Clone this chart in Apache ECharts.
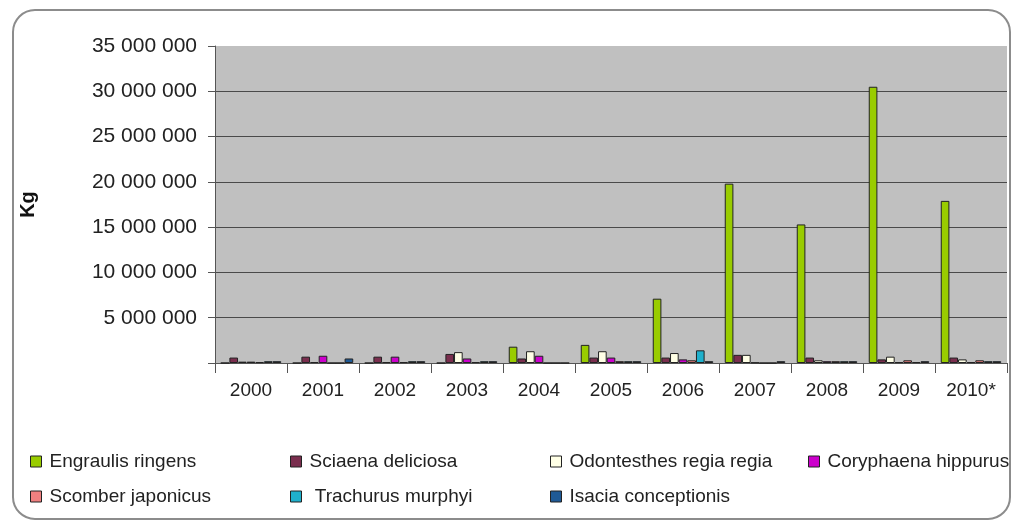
<!DOCTYPE html>
<html>
<head>
<meta charset="utf-8">
<script src="https://cdn.jsdelivr.net/npm/echarts@6/dist/echarts.min.js"></script>
<style>
  html, body { margin: 0; padding: 0; background: #fff; }
  #chart { width: 1017px; height: 526px; }
</style>
</head>
<body>
<div id="chart"></div>
<script>
// Landings by species, kilograms per year
const years = ['2000', '2001', '2002', '2003', '2004', '2005', '2006', '2007', '2008', '2009', '2010*'];
const yTicks = [0, 5000000, 10000000, 15000000, 20000000, 25000000, 30000000, 35000000];

const engraulisRingens = [0, 0, 0, 0, 1800000, 2000000, 7100000, 19800000, 15300000, 30500000, 17900000];
const sciaenaDeliciosa = [600000, 700000, 700000, 1000000, 500000, 600000, 600000, 900000, 600000, 400000, 600000];
const odontesthesRegia = [150000, 100000, 100000, 1200000, 1300000, 1300000, 1100000, 900000, 300000, 700000, 400000];
const coryphaenaHippurus = [150000, 800000, 700000, 500000, 800000, 600000, 400000, 50000, 200000, 100000, 100000];
const scomberJaponicus = [100000, 0, 100000, 100000, 0, 200000, 300000, 0, 200000, 300000, 300000];
const trachurusMurphyi = [200000, 0, 200000, 200000, 0, 200000, 1400000, 0, 200000, 100000, 200000];
const isaciaConceptionis = [200000, 500000, 200000, 200000, 0, 200000, 200000, 200000, 200000, 200000, 200000];

const seriesDefs = [
  { name: 'Engraulis ringens', data: engraulisRingens, color: '#99cc00' },
  { name: 'Sciaena deliciosa', data: sciaenaDeliciosa, color: '#7a2e4e' },
  { name: 'Odontesthes regia regia', data: odontesthesRegia, color: '#ffffe6' },
  { name: 'Coryphaena hippurus', data: coryphaenaHippurus, color: '#cc00cc' },
  { name: 'Scomber japonicus', data: scomberJaponicus, color: '#f08080' },
  { name: ' Trachurus murphyi', data: trachurusMurphyi, color: '#1fb0cc' },
  { name: 'Isacia conceptionis', data: isaciaConceptionis, color: '#1f5a96' }
];

// legend slots: two rows of four columns
const legendPos = [
  { left: 25, top: 447 }, { left: 285, top: 447 }, { left: 545, top: 447 }, { left: 803, top: 447 },
  { left: 25, top: 482 }, { left: 285, top: 482 }, { left: 545, top: 482 }
];

const FONT = 'Liberation Sans, Arial, sans-serif';

// thousands grouped with a space; zero left blank
function fmt(v) {
  if (v === 0) return '';
  return String(v).replace(/\B(?=(\d{3})+(?!\d))/g, ' ');
}

const chart = echarts.init(document.getElementById('chart'), null, { renderer: 'canvas' });

chart.setOption({
  animation: false,
  backgroundColor: '#ffffff',
  textStyle: { fontFamily: FONT },
  graphic: [{
    type: 'rect',
    shape: { x: 13, y: 10, width: 997, height: 509, r: 22 },
    style: { fill: 'none', stroke: '#8c8c8c', lineWidth: 2 },
    z: -10
  }],
  grid: {
    left: 215, right: 10, top: 46, bottom: 163,
    show: true, backgroundColor: '#c0c0c0', borderWidth: 0
  },
  legend: seriesDefs.map((s, i) => ({
    data: [s.name],
    left: legendPos[i].left,
    top: legendPos[i].top,
    orient: 'horizontal',
    itemWidth: 11,
    itemHeight: 11,
    icon: 'rect',
    selectedMode: false,
    textStyle: { fontFamily: FONT, fontSize: 19, color: '#222', padding: [0, 0, 0, 3] },
    itemStyle: { borderColor: '#222', borderWidth: 1 }
  })),
  xAxis: {
    type: 'category',
    data: years,
    boundaryGap: true,
    axisLine: { lineStyle: { color: '#555', width: 1 } },
    axisTick: { show: true, length: 10, alignWithLabel: false, lineStyle: { color: '#555' } },
    axisLabel: { fontFamily: FONT, fontSize: 19, color: '#222', margin: 18 },
    splitLine: { show: false }
  },
  yAxis: {
    type: 'value',
    min: yTicks[0],
    max: yTicks[yTicks.length - 1],
    interval: yTicks[1] - yTicks[0],
    name: 'Kg',
    nameLocation: 'middle',
    nameGap: 177,
    nameRotate: 90,
    nameTextStyle: { fontFamily: FONT, fontSize: 20, fontWeight: 'bold', color: '#111' },
    axisLine: { show: true, lineStyle: { color: '#555', width: 1 } },
    axisTick: { show: true, length: 7, lineStyle: { color: '#555' } },
    axisLabel: { fontFamily: FONT, fontSize: 21, color: '#222', margin: 18, formatter: fmt },
    splitLine: {
      show: true,
      lineStyle: { color: ['#4a4a4a', '#4a4a4a', '#4a4a4a', '#4a4a4a', '#4a4a4a', '#4a4a4a', '#4a4a4a', 'rgba(0,0,0,0)'], width: 1 }
    }
  },
  series: seriesDefs.map(s => ({
    name: s.name,
    type: 'bar',
    data: s.data,
    barGap: '0%',
    barCategoryGap: '16%',
    itemStyle: { color: s.color, borderColor: '#222', borderWidth: 1 }
  }))
});
</script>
</body>
</html>
